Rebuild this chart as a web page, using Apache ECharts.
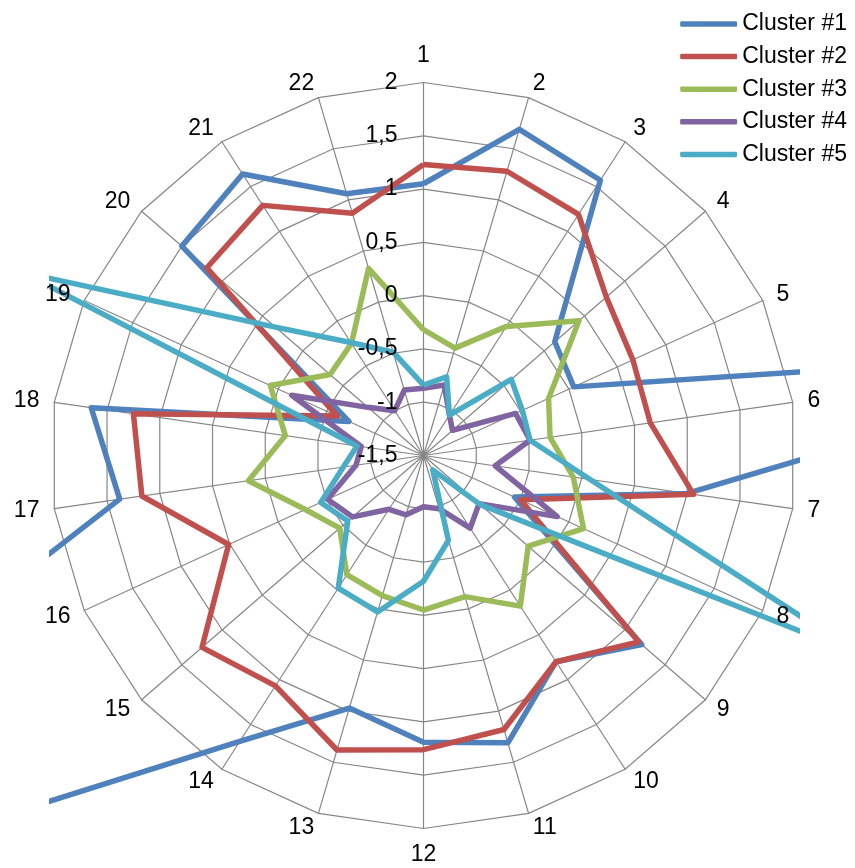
<!DOCTYPE html>
<html><head><meta charset="utf-8">
<script src="https://cdn.jsdelivr.net/npm/echarts@6/dist/echarts.min.js"></script>
<style>html,body{margin:0;padding:0;background:#fff}#c{width:855px;height:868px}</style>
</head><body><div id="c"></div>
<script>
const indicatorNames = ['1','2','3','4','5','6','7','8','9','10','11','12','13','14','15','16','17','18','19','20','21','22'];
const tickLabels = ['-1,5','-1','-0,5','0','0,5','1','1,5','2'];
const seriesNames = ['Cluster #1','Cluster #2','Cluster #3','Cluster #4','Cluster #5'];
const seriesColors = ['#4F81BD','#C0504D','#9BBB59','#8064A2','#4BACC6'];
const cluster1 = [1.05, 1.69, 1.57, 0.13, 0.05, 5.7, 1.00, -0.56, 1.21, 0.80, 1.31, 1.19, 0.97, 1.69, 3.63, 4.70, 1.38, 1.65, -0.73, 1.50, 1.64, 1.06];
const cluster2 = [1.23, 1.28, 1.19, 0.77, 0.66, 0.65, 1.06, -0.50, 1.17, 0.80, 1.18, 1.26, 1.38, 1.07, 1.25, 0.51, 1.17, 1.25, -0.61, 1.19, 1.29, 0.87];
const cluster3 = [-0.32, -0.45, -0.06, 0.43, -0.21, -0.30, -0.08, 0.15, -0.20, 0.18, -0.12, -0.05, -0.13, -0.17, -0.46, -0.28, 0.16, -0.19, 0.08, -0.34, -0.25, 0.33];
const cluster4 = [-0.87, -0.81, -1.05, -1.14, -0.55, -0.49, -0.82, -0.12, -0.81, -0.69, -0.98, -1.02, -0.92, -0.90, -0.62, -0.51, -0.86, -0.91, -0.14, -0.81, -1.00, -0.86];
const cluster5 = [-0.84, -0.73, -1.05, -0.41, -0.48, -0.49, 0.08, 3.0, -0.80, -1.34, -0.67, -0.32, 0.03, -0.02, -0.56, -0.44, -0.74, -0.87, 2.63, 0.34, -0.24, -0.49];
const clusters = [cluster1, cluster2, cluster3, cluster4, cluster5];

const AXIS_MIN = -1.5, AXIS_MAX = 2, STEP = 0.5;
const FONT = "'Liberation Sans', Arial, sans-serif";
const CENTER = [423.5, 455.5], RADIUS = 373;
// ECharts places radar indicators counter-clockwise; reverse to get clockwise order
const order = [0].concat(indicatorNames.map((_, i) => i).slice(1).reverse());

const labelFmt = v => {
  const idx = Math.round((v - AXIS_MIN) / STEP);
  return tickLabels[idx] !== undefined ? tickLabels[idx] : String(v).replace('.', ',');
};

const chart = echarts.init(document.getElementById('c'), null, {renderer: 'canvas'});
const gridColor = '#868686';
const option = {
  animation: false,
  backgroundColor: '#fff',
  radar: [
    {
      center: CENTER, radius: RADIUS, startAngle: 90, shape: 'polygon', splitNumber: 7,
      indicator: order.map(i => ({name: indicatorNames[i], min: AXIS_MIN, max: AXIS_MAX})),
      axisName: {show: false},
      axisLine: {show: true, lineStyle: {color: gridColor, width: 1.2}},
      splitLine: {show: true, lineStyle: {color: gridColor, width: 1.2}},
      splitArea: {show: false},
      axisTick: {show: false},
      axisLabel: {show: false},
      z: 0
    },
    {
      center: CENTER, radius: RADIUS, startAngle: 90, shape: 'polygon', splitNumber: 7,
      indicator: order.map((i, k) => {
        const o = {name: indicatorNames[i], min: AXIS_MIN, max: AXIS_MAX};
        if (k === 0) {
          o.axisLabel = {show: true, margin: 26, fontSize: 23, color: '#000', fontFamily: FONT,
            formatter: labelFmt, showMinLabel: true, showMaxLabel: true};
        }
        return o;
      }),
      axisName: {show: true, color: '#000', fontSize: 23, fontFamily: FONT},
      axisNameGap: 15,
      axisLine: {show: false},
      splitLine: {show: false},
      splitArea: {show: false},
      axisTick: {show: false},
      axisLabel: {show: false},
      z: 10
    }
  ],
  legend: {
    orient: 'vertical', right: 3, top: 7.5, itemWidth: 57, itemHeight: 5.5, itemGap: 9.6,
    icon: 'roundRect',
    textStyle: {fontSize: 23, color: '#000', fontFamily: FONT},
    data: seriesNames, z: 20
  },
  graphic: [
    {type: 'rect', shape: {x: 0, y: 0, width: 49, height: 868}, style: {fill: '#fff'}, z: 5, silent: true},
    {type: 'rect', shape: {x: 800, y: 0, width: 55, height: 868}, style: {fill: '#fff'}, z: 5, silent: true}
  ],
  series: clusters.map((vals, s) => ({
    type: 'radar', name: seriesNames[s], radarIndex: 0, z: 2,
    symbol: 'none',
    lineStyle: {width: 5.5, color: seriesColors[s]},
    itemStyle: {color: seriesColors[s]},
    data: [{name: seriesNames[s], value: order.map(i => vals[i])}]
  }))
};
chart.setOption(option);
</script>
</body></html>
